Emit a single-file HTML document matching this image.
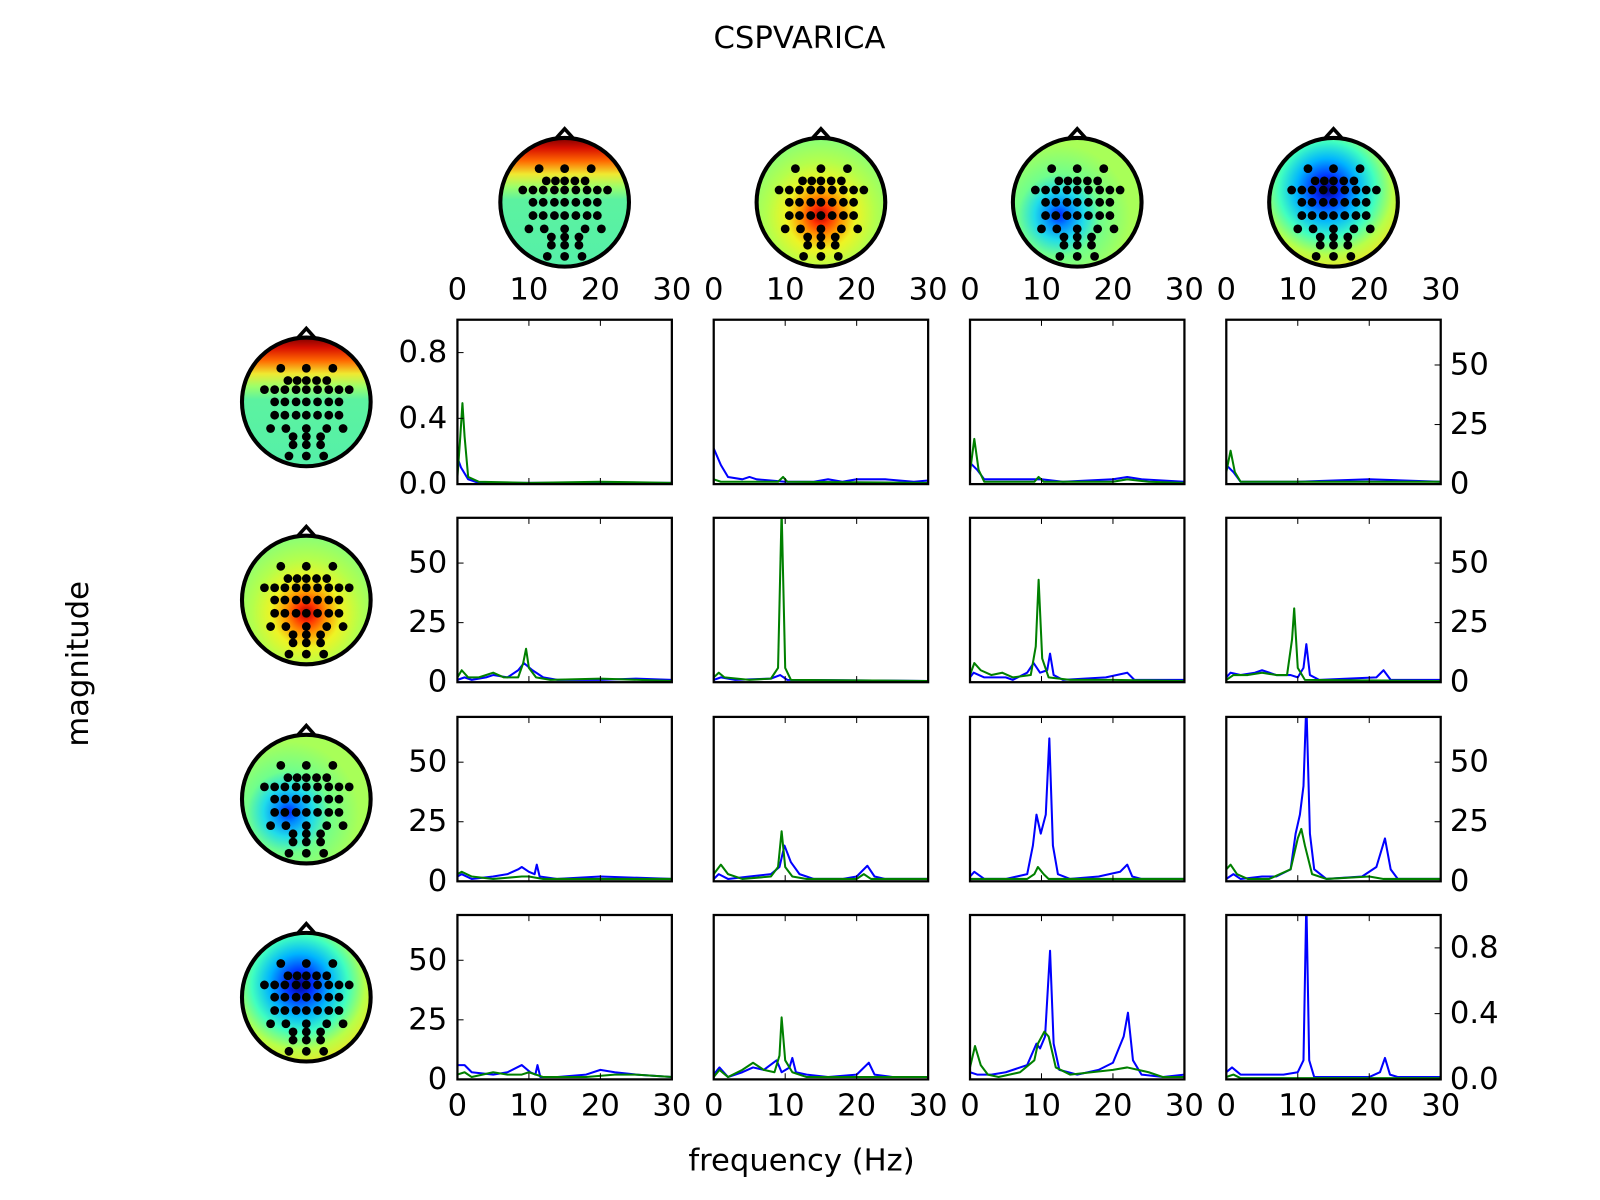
<!DOCTYPE html>
<html><head><meta charset="utf-8"><style>
html,body{margin:0;padding:0;background:#fff;}
svg{display:block;font-family:"DejaVu Sans","Liberation Sans",sans-serif;}
</style></head>
<body>
<svg id="fig" width="1600" height="1200" viewBox="0 0 1567 1175" xmlns="http://www.w3.org/2000/svg">
<defs>
<linearGradient id="gA" x1="0" y1="0" x2="0" y2="1">
<stop offset="0" stop-color="#800000"/><stop offset="0.08" stop-color="#d81000"/><stop offset="0.18" stop-color="#ff6a00"/><stop offset="0.28" stop-color="#f0e830"/><stop offset="0.38" stop-color="#9cff6a"/><stop offset="0.48" stop-color="#5cf2a0"/><stop offset="1" stop-color="#55f0a8"/>
</linearGradient>
<radialGradient id="gB" cx="0.5" cy="0.6" r="0.6">
<stop offset="0" stop-color="#b00000"/><stop offset="0.12" stop-color="#ff3000"/><stop offset="0.27" stop-color="#ff9a00"/><stop offset="0.45" stop-color="#eef424"/><stop offset="0.7" stop-color="#b4ff4c"/><stop offset="1" stop-color="#88ff78"/>
</radialGradient>
<radialGradient id="gC" cx="0.36" cy="0.6" r="0.55">
<stop offset="0" stop-color="#0020ff"/><stop offset="0.15" stop-color="#0088ff"/><stop offset="0.35" stop-color="#20dcea"/><stop offset="0.58" stop-color="#70ff8c"/><stop offset="1" stop-color="#a8ff58"/>
</radialGradient>
<radialGradient id="gD" cx="0.45" cy="0.4" r="0.68">
<stop offset="0" stop-color="#00008c"/><stop offset="0.15" stop-color="#0030ff"/><stop offset="0.35" stop-color="#00b4ff"/><stop offset="0.55" stop-color="#40ffc0"/><stop offset="0.75" stop-color="#b8ff48"/><stop offset="1" stop-color="#ffdc18"/>
</radialGradient>
</defs>
<text x="783" y="47" font-size="30" text-anchor="middle">CSPVARICA</text>
<text x="785" y="1146" font-size="30" text-anchor="middle">frequency (Hz)</text>
<text x="86" y="650" font-size="30" text-anchor="middle" transform="rotate(-90 86 650)">magnitude</text>
<g id="heads"></g>
<g id="panels"></g>
</svg>
<script>
// ---- data (frequency Hz, magnitude) ----
const xTickLabels = [0, 10, 20, 30];
const yTickMain = [0, 25, 50];
const yTickFrac = ["0.0", "0.4", "0.8"];
const yTickFracVals = [0, 0.4, 0.8];
const xMax = 30, yMax = 69;

const blueRow1 = [
 [[0,11],[0.5,7],[1.5,2],[3,0.5],[30,0.5]],
 [[0,15],[1,8],[2,3],[4,2],[5,3],[6,2],[10,1],[14,1],[16,2],[18,1],[20,2],[24,2],[28,1],[30,1.5]],
 [[0,9],[1,6],[2,2],[5,2],[8,2],[10,2],[13,1],[20,2],[22,3],[24,2],[30,1]],
 [[0,8],[1,5],[2,1],[10,1],[20,2],[30,1]]
];
const greenRow1 = [
 [[0,3],[0.4,20],[0.7,34],[1.0,20],[1.5,3],[3,1],[10,0.5],[20,1],[30,0.5]],
 [[0,2],[1,1],[9,1],[9.7,3],[10.3,1],[30,0.5]],
 [[0,5],[0.6,19],[1.2,6],[2,1],[9,1],[9.6,3],[10.3,1],[20,1],[22,2],[25,1],[30,0.5]],
 [[0,5],[0.6,14],[1.2,5],[2,1],[10,1],[30,1]]
];
const blueRow2 = [
 [[0,1],[1,2],[2,1],[4,2],[5,3],[7,2],[8.5,5],[9.3,8],[10.5,5],[12,2],[14,1],[20,1],[25,1.5],[30,1]],
 [[0,1],[1,2],[3,1],[8,1.5],[9.3,3],[10.3,1],[30,0.5]],
 [[0,2],[0.5,4],[2,2],[5,2],[6,1],[8,4],[8.9,8],[9.8,4],[10.8,5],[11.2,12],[11.7,3],[13,1],[19,2],[22,4],[23,1],[30,1]],
 [[0,2],[0.6,4],[2,3],[4,4],[5,5],[7,3],[9,3],[10,2],[10.8,6],[11.2,16],[11.7,3],[13,1],[21,2],[22,5],[23,1],[30,1]]
];
const greenRow2 = [
 [[0,2],[0.6,5],[1.5,2],[3,2],[5,4],[6.5,2],[8.5,2],[9.2,8],[9.6,14],[10,6],[11,2],[13,1],[20,1.5],[30,0.5]],
 [[0,2],[0.7,4],[1.5,2],[5,1],[8,1.5],[9,6],[9.5,72],[10,6],[10.8,1],[30,0.5]],
 [[0,3],[0.6,8],[1.5,5],[3,3],[4.5,4],[6,2],[8.5,3],[9.2,15],[9.6,43],[10.1,10],[11,2],[14,1],[20,1],[30,0.5]],
 [[0,1],[1,3],[3,3],[5,4],[7,3],[8.5,3],[9.2,18],[9.5,31],[10,6],[11,1],[30,0.5]]
];
const blueRow3 = [
 [[0,2],[0.6,3],[2,1],[5,2],[7,3],[8.5,5],[9,6],[10,4],[10.8,3],[11.1,7],[11.5,2],[14,1],[20,2],[30,1]],
 [[0,1],[0.7,3],[2,1],[5,2],[8,3],[9.2,6],[9.9,15],[10.8,8],[12,3],[14,1],[18,1],[20,2],[21.5,6.5],[22.5,2],[24,1],[30,1]],
 [[0,2],[0.6,4],[2,1],[5,1],[8,3],[8.8,15],[9.3,28],[9.9,20],[10.6,28],[11.1,60],[11.6,15],[12.3,3],[14,1],[18,2],[21,4],[22,7],[22.7,2],[24,1],[30,1]],
 [[0,1],[1,3],[2,1],[5,2],[7,2],[9,5],[9.7,20],[10.3,28],[10.8,40],[11.2,75],[11.7,20],[12.3,5],[14,1],[19,2],[21,6],[22.2,18],[23,5],[24,1],[30,1]]
];
const greenRow3 = [
 [[0,3],[0.6,4],[2,2],[5,1],[9,2],[10,2],[12,1],[20,1],[25,1],[30,1]],
 [[0,3],[1,7],[2,3],[4,1],[8,2],[9,6],[9.5,21],[10,6],[11,2],[13,1],[20,1],[21,3],[22,1],[30,1]],
 [[0,1],[2,1],[8,1],[9,3],[9.5,6],[10.3,3],[11,1],[30,1]],
 [[0,5],[0.6,7],[1.5,3],[3,1],[6,1],[9,5],[10,18],[10.5,22],[11,15],[12,3],[14,1],[20,2],[22,1],[30,1]]
];
const blueRow4 = [
 [[0,6],[1,6],[2,3],[5,2],[7,3],[9,6],[10.2,3],[10.9,2],[11.2,6],[11.6,1],[14,1],[18,2],[20,4],[22,3],[25,2],[30,1]],
 [[0,2],[0.8,5],[2,1],[4,3],[5.5,5],[7,4],[8.8,8],[9.5,3],[10.6,5],[11,9],[11.5,3],[13,2],[16,1],[20,2],[21.7,7],[22.5,2],[25,1],[30,1]],
 [[0,3],[1,2],[3,2],[5,3],[8,6],[9.3,15],[9.8,13],[10.5,18],[11.2,54],[11.7,15],[12.5,4],[15,2],[18,4],[20,7],[21.5,18],[22.1,28],[22.8,8],[24,2],[27,1],[30,2]],
 [[0,3],[0.8,5],[2,2],[5,2],[8,2],[10,3],[10.8,8],[11.2,75],[11.6,8],[12.3,1],[20,1],[21.5,3],[22.2,9],[22.9,2],[24,1],[30,1]]
];
const greenRow4 = [
 [[0,2],[1,3],[2,1],[5,3],[7,2],[9,2],[10,3],[12,1],[18,1],[22,2],[25,2],[30,1]],
 [[0,1],[0.8,4],[2,1],[4,4],[5.5,7],[7,4],[8.5,3],[9.2,10],[9.5,26],[10,8],[11,3],[13,1],[20,1],[30,1]],
 [[0,5],[0.7,14],[1.5,6],[2.5,2],[4,1],[7,3],[9,8],[9.5,15],[10.4,20],[11,18],[12,5],[14,2],[17,3],[20,4],[22,5],[25,3],[27,1],[30,1]],
 [[0,1],[1,2],[2,0.5],[30,0.5]]
];
const blueRows = [blueRow1, blueRow2, blueRow3, blueRow4];
const greenRows = [greenRow1, greenRow2, greenRow3, greenRow4];

// ---- layout ----
const NS = "http://www.w3.org/2000/svg";
const colX = [448, 699, 950, 1201], PW = 210;
const rowY = [313, 507, 702, 896], PH = 161;
const headFills = ["url(#gA)", "url(#gB)", "url(#gC)", "url(#gD)"];
const elecRows = [
 [-33, [-25, 0, 26]], [-21, [-18, -9, 0, 10, 20]],
 [-12, [-41, -31, -21, -10, 0, 11, 22, 32, 42]],
 [0, [-31, -21, -10, 0, 11, 22, 32]], [13, [-31, -21, -10, 0, 11, 22, 32]],
 [26, [-35, -20, 0, 20, 36]], [34, [-13, 0, 14]], [42, [-13, 0, 14]], [53, [-17, 0, 17]]
];
function mk(tag, attrs, parent) {
  const e = document.createElementNS(NS, tag);
  for (const k in attrs) e.setAttribute(k, attrs[k]);
  parent.appendChild(e);
  return e;
}
function xScale(c, f) { return colX[c] + f / xMax * PW; }
function yScale(r, v) { return rowY[r] + PH - v / yMax * PH; }
function yScaleFrac(r, v) { return rowY[r] + PH - v * PH; }

const headsG = document.getElementById("heads");
function drawHead(cx, cy, idx, name) {
  const g = mk("g", {}, headsG);
  
  
  const nose = mk("path", { d: `M${cx-9} ${cy-62} L${cx} ${cy-72} L${cx+9} ${cy-62}`, fill: "none", stroke: "#000", "stroke-width": 3.5 }, g);
  
  
  const c = mk("circle", { cx: cx, cy: cy, r: 63, fill: headFills[idx], stroke: "#000", "stroke-width": 4 }, g);
  
  
  for (const [dy, xs] of elecRows) for (const dx of xs) {
    const d = mk("circle", { cx: cx + dx, cy: cy + dy, r: 4.3, fill: "#000" }, g);
    
    
  }
}
for (let i = 0; i < 4; i++) drawHead(colX[i] + PW / 2, 198, i, 'topomap-column-' + (i + 1));
for (let i = 0; i < 4; i++) drawHead(300, rowY[i] + PH / 2, i, 'topomap-row-' + (i + 1));

const panelsG = document.getElementById("panels");
function label(txt, x, y, anchor, name, parent) {
  const t = mk("text", { x: x, y: y, "font-size": 30, "text-anchor": anchor, "dominant-baseline": "central" }, parent);
  t.textContent = txt;
  
  
}
for (let r = 0; r < 4; r++) for (let c = 0; c < 4; c++) {
  const g = mk("g", {}, panelsG);
  
  
  const cp = mk("clipPath", { id: "cp" + r + c }, g);
  mk("rect", { x: colX[c], y: rowY[r], width: PW, height: PH }, cp);
  const series = [[blueRows[r][c], "#0000ff", "blue-line"], [greenRows[r][c], "#008000", "green-line"]];
  for (const [data, col, nm] of series) {
    const pts = data.map(p => xScale(c, p[0]).toFixed(1) + "," + yScale(r, p[1]).toFixed(1)).join(" ");
    const pl = mk("polyline", { points: pts, fill: "none", stroke: col, "stroke-width": 2, "stroke-linejoin": "round", "clip-path": `url(#cp${r}${c})` }, g);
    
    
  }
  const fr = mk("rect", { x: colX[c], y: rowY[r], width: PW, height: PH, fill: "none", stroke: "#000", "stroke-width": 2.2 }, g);
  
  
  for (const f of xTickLabels) {
    if (f === 0 || f === 30) continue;
    const x = xScale(c, f);
    const t1 = mk("line", { x1: x, y1: rowY[r], x2: x, y2: rowY[r] + 6, stroke: "#000", "stroke-width": 1 }, g);
    
    
    const t2 = mk("line", { x1: x, y1: rowY[r] + PH, x2: x, y2: rowY[r] + PH - 6, stroke: "#000", "stroke-width": 1 }, g);
    
    
  }
  if (r === 0) for (const f of xTickLabels) label(String(f), xScale(c, f), 284, "middle", 'x-tick-label-top', g);
  if (r === 3) for (const f of xTickLabels) label(String(f), xScale(c, f), 1083, "middle", 'x-tick-label-bottom', g);
  if (c === 0) {
    const useFrac = r === 0;
    const vals = useFrac ? yTickFracVals : yTickMain;
    vals.forEach((v, i) => {
      const y = useFrac ? yScaleFrac(r, v) : yScale(r, v);
      const tk = mk("line", { x1: colX[0], y1: y, x2: colX[0] + 6, y2: y, stroke: "#000", "stroke-width": 1 }, g);
      
      
      label(useFrac ? yTickFrac[i] : String(v), colX[0] - 10, y, "end", 'y-tick-label-left', g);
    });
  }
  if (c === 3) {
    const useFrac = r === 3;
    const vals = useFrac ? yTickFracVals : yTickMain;
    vals.forEach((v, i) => {
      const y = useFrac ? yScaleFrac(r, v) : yScale(r, v);
      const x = colX[3] + PW;
      const tk = mk("line", { x1: x, y1: y, x2: x - 6, y2: y, stroke: "#000", "stroke-width": 1 }, g);
      
      
      label(useFrac ? yTickFrac[i] : String(v), x + 9, y, "start", 'y-tick-label-right', g);
    });
  }
}
</script>
</body></html>
